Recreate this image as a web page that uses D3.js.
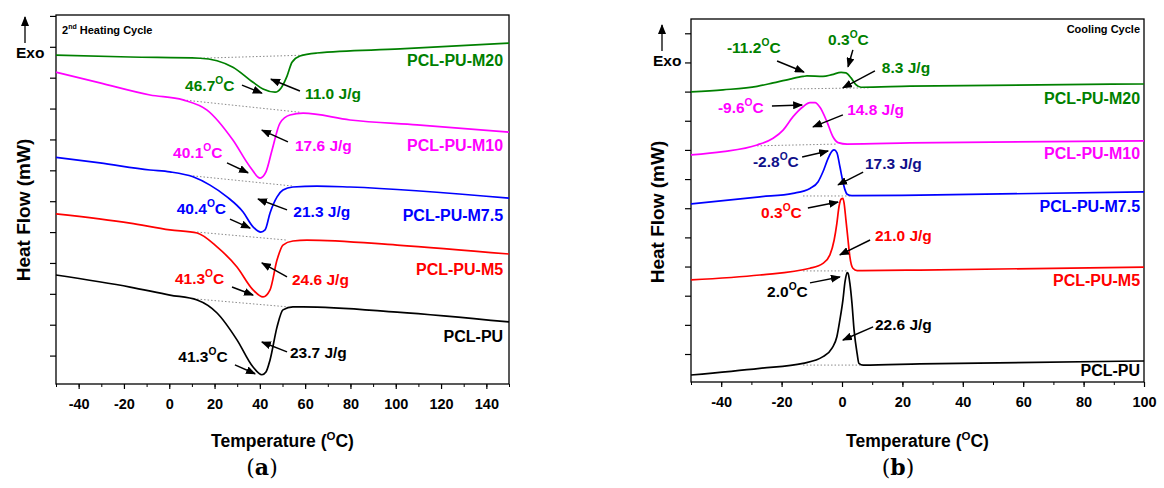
<!DOCTYPE html>
<html>
<head>
<meta charset="utf-8">
<script src="https://cdn.jsdelivr.net/npm/d3@7"></script>
<style>
body{margin:0;background:#fff}
svg{display:block;font-family:"Liberation Sans",Arial,sans-serif;font-weight:bold}
</style>
</head>
<body>
<script>
// ---- 2nd heating cycle (panel a): [temperature °C, heat flow (offset units)]
const heatPU   = [[-50,2.61],[-17.3,2.22],[0.3,1.96],[12.3,1.80],[21.1,1.38],[29.9,0.51],[37.0,-0.37],[40.9,-0.62],[42.7,-0.53],[44.5,-0.14],[47.6,0.93],[50.2,1.48],[54.6,1.58],[59.1,1.58],[100.6,1.41],[150,1.09]];
const heatM5   = [[-50,4.59],[-17.3,4.29],[0.3,4.07],[12.3,3.97],[21.1,3.52],[29.9,2.87],[37.0,2.13],[41.4,1.90],[44.5,2.13],[47.6,3.10],[50.2,3.58],[54.6,3.71],[60.8,3.74],[100.6,3.58],[150,3.29]];
const heatM75  = [[-50,6.42],[-30.6,6.24],[-8.5,6.01],[0.3,5.95],[10.5,5.79],[18.0,5.52],[25.5,5.14],[32.6,4.65],[37.0,4.17],[40.4,4.00],[42.3,4.07],[44.5,4.62],[47.6,5.14],[50.2,5.36],[54.6,5.46],[65.2,5.49],[79.8,5.46],[150,5.10]];
const heatM10  = [[-50,9.18],[-30.6,8.83],[-8.5,8.44],[6.1,8.28],[16.7,7.95],[28.1,6.98],[35.7,6.11],[40.1,5.75],[42.7,5.95],[45.4,6.66],[48.9,7.53],[53.3,7.79],[59.1,7.85],[79.8,7.63],[109.4,7.47],[150,7.24]];
const heatM20  = [[-50,9.73],[-17.3,9.67],[13.6,9.63],[28.1,9.34],[37.0,8.85],[41.4,8.63],[46.7,8.53],[49.3,8.66],[52.0,9.05],[54.2,9.50],[57.7,9.70],[65.2,9.80],[101.9,9.93],[150,10.12]];
const heatBase = [[13.6,9.63,59.9,9.73],[6.1,8.28,57.7,7.88],[10.5,5.82,54.6,5.49],[12.3,4.00,52.0,3.74],[12.3,1.83,52.0,1.58]];

// ---- cooling cycle (panel b)
const coolPU   = [[-50,-0.72],[-27.2,-0.49],[-12.9,-0.32],[-6.3,-0.09],[-3.3,0.20],[-1.7,0.59],[-0.7,1.17],[0.3,1.85],[1.0,2.48],[1.7,2.79],[2.0,2.77],[2.6,2.43],[3.3,1.74],[4.0,0.82],[5.0,0.02],[5.6,-0.32],[7.0,-0.38],[25.8,-0.34],[100,-0.24]];
const coolM5   = [[-50,2.54],[-27.2,2.71],[-10.6,2.94],[-6.3,3.11],[-4.0,3.40],[-2.6,3.91],[-1.7,4.48],[-1.0,5.05],[-0.3,5.31],[0.3,5.34],[0.7,5.17],[1.3,4.60],[2.0,3.91],[2.6,3.34],[3.6,2.94],[5.0,2.86],[25.8,2.88],[100,2.98]];
const coolM75  = [[-50,5.15],[-27.2,5.39],[-16.2,5.51],[-10.6,5.68],[-7.9,5.91],[-6.3,6.25],[-4.6,6.71],[-3.3,6.96],[-2.6,7.00],[-1.7,6.91],[-0.7,6.43],[0.3,5.91],[1.0,5.63],[1.7,5.48],[3.3,5.43],[25.8,5.45],[100,5.56]];
const coolM10  = [[-50,6.83],[-39.4,6.94],[-28.1,7.17],[-22.8,7.40],[-19.5,7.68],[-16.2,8.14],[-12.9,8.48],[-10.6,8.62],[-8.9,8.62],[-7.3,8.46],[-5.0,7.97],[-3.0,7.45],[-1.3,7.25],[1.7,7.20],[22.5,7.24],[100,7.31]];
const coolM20  = [[-50,8.99],[-39.4,9.06],[-28.1,9.18],[-22.8,9.30],[-17.2,9.43],[-12.9,9.52],[-11.6,9.54],[-6.3,9.52],[-3.3,9.58],[-0.3,9.66],[1.3,9.64],[3.0,9.47],[4.6,9.24],[6.3,9.15],[22.5,9.19],[100,9.26]];
const coolBase = [[-17.2,9.09,9.3,9.13],[-28.1,7.14,-1.7,7.20],[-12.9,5.42,2.6,5.42],[-12.9,2.85,1.7,2.85],[-12.9,-0.38,6.0,-0.38]];

const seriesKeys = ['PU','M5','M7.5','M10','M20'];
const colors = {'PU':'#000000','M5':'#ff0000','M7.5':'#0000ff','M10':'#ff00ff','M20':'#008000','navy':'#10108a'};

// annotations: [text, temperature, heat flow, colour key, kind]
const heatNotes = [
  ['46.7',7.0,8.56,'M20','deg'],['11.0 J/g',59.9,8.31,'M20'],['PCL-PU-M20',147.4,9.38,'M20','end'],
  ['40.1',1.7,6.39,'M10','deg'],['17.6 J/g',55.5,6.63,'M10'],['PCL-PU-M10',147.4,6.63,'M10','end'],
  ['40.4',3.3,4.59,'M7.5','deg'],['21.3 J/g',54.8,4.49,'M7.5'],['PCL-PU-M7.5',147.4,4.36,'M7.5','end'],
  ['41.3',2.5,2.32,'M5','deg'],['24.6 J/g',54.2,2.29,'M5'],['PCL-PU-M5',147.4,2.61,'M5','end'],
  ['41.3',4.0,-0.20,'PU','deg'],['23.7 J/g',53.3,-0.07,'PU'],['PCL-PU',147.4,0.44,'PU','end']
];
const heatArrows = [[32.1,8.76,40.9,8.50],[57.7,8.57,44.9,8.95],[25.5,6.24,34.8,5.92],[52.4,6.92,40.9,7.30],[26.8,4.42,35.7,4.13],[52.0,4.72,39.2,5.07],[27.7,2.22,37.0,1.96],[52.0,2.55,40.9,3.00],[29.0,-0.30,37.9,-0.59],[52.0,0.12,40.9,0.44]];

const coolNotes = [
  ['-11.2',-38.1,10.33,'M20','deg'],['0.3',-4.6,10.60,'M20','deg'],['8.3 J/g',13.2,9.64,'M20'],['PCL-PU-M20',98.7,8.58,'M20','end'],
  ['-9.6',-41.1,8.27,'M10','deg'],['14.8 J/g',1.7,8.20,'M10'],['PCL-PU-M10',98.7,6.69,'M10','end'],
  ['-2.8',-29.5,6.42,'navy','deg'],['17.3 J/g',7.6,6.35,'navy'],['PCL-PU-M7.5',98.7,4.87,'M7.5','end'],
  ['0.3',-26.8,4.67,'M5','deg'],['21.0 J/g',10.9,3.88,'M5'],['PCL-PU-M5',98.7,2.33,'M5','end'],
  ['2.0',-24.8,1.96,'PU','deg'],['22.6 J/g',10.9,0.82,'PU'],['PCL-PU',98.7,-0.75,'PU','end']
];
const coolArrows = [[-21.5,10.05,-12.6,9.67],[3.6,10.43,2.0,9.85],[10.9,9.71,0.3,9.13],[-23.2,8.51,-13.2,8.54],[0.3,8.20,-9.6,7.79],[-13.2,6.76,-4.6,6.96],[7.0,6.24,-1.3,5.80],[-11.3,5.01,-1.3,5.21],[9.3,3.91,-0.7,3.40],[-10.6,2.44,-0.7,2.64],[10.3,0.93,0.3,0.48]];

const heatTicks = [-40,-20,0,20,40,60,80,100,120,140];
const coolTicks = [-40,-20,0,20,40,60,80,100];

const width = 1164, height = 488;
const svg = d3.select('body').append('svg').attr('width', width).attr('height', height);

svg.append('defs').append('marker')
  .attr('id','head')
  .attr('markerUnits','userSpaceOnUse')
  .attr('markerWidth',10).attr('markerHeight',8)
  .attr('refX',9).attr('refY',4)
  .attr('orient','auto')
  .append('path').attr('d','M0,0 L10,4 L0,8 Z').attr('fill','#000');

function degText(g, x, y, num, color, size) {
  const t = g.append('text').attr('x', x).attr('y', y).attr('fill', color).attr('font-size', size);
  t.append('tspan').text(num);
  t.append('tspan').attr('font-size', size*0.66).attr('dy', -size*0.45).text('O');
  t.append('tspan').attr('dy', size*0.45).text('C');
  return t;
}

function drawPanel(cfg) {
  const x = d3.scaleLinear().domain(cfg.xDomain).range([cfg.left, cfg.right]);
  const y = d3.scaleLinear().domain(cfg.yDomain).range([cfg.bottom, cfg.top]);
  const g = svg.append('g');

  // minor x ticks
  g.append('g').attr('transform', `translate(0,${cfg.bottom})`)
    .call(d3.axisBottom(x).tickValues(d3.range(cfg.xDomain[0], cfg.xDomain[1]+1, 10)).tickSize(3).tickFormat(''))
    .call(s => s.select('.domain').remove());
  // major x ticks
  g.append('g').attr('transform', `translate(0,${cfg.bottom})`)
    .call(d3.axisBottom(x).tickValues(cfg.xTicks).tickSize(5).tickPadding(10).tickFormat(d => String(d)))
    .call(s => {
      s.select('.domain').remove();
      s.attr('font-size', 14.5).attr('font-family', null);
      s.selectAll('.tick line').attr('stroke-width', 1.2);
    });
  // y ticks (no labels)
  g.append('g').attr('transform', `translate(${cfg.left},0)`)
    .call(d3.axisLeft(y).tickValues(d3.range(0, Math.floor(cfg.yDomain[1])+1)).tickSize(6).tickFormat(''))
    .call(s => { s.select('.domain').remove(); s.selectAll('.tick line').attr('stroke-width', 1.2); });

  g.append('rect')
    .attr('x', cfg.left).attr('y', cfg.top)
    .attr('width', cfg.right-cfg.left).attr('height', cfg.bottom-cfg.top)
    .attr('fill','none').attr('stroke','#000').attr('stroke-width',1.3);

  // dotted baselines
  g.selectAll('line.base').data(cfg.base).join('line')
    .attr('x1', d => x(d[0])).attr('y1', d => y(d[1]))
    .attr('x2', d => x(d[2])).attr('y2', d => y(d[3]))
    .attr('stroke','#8a8a8a').attr('stroke-width',1).attr('stroke-dasharray','1.5,2');

  const line = d3.line().x(d => x(d[0])).y(d => y(d[1])).curve(d3.curveMonotoneX);
  g.selectAll('path.curve').data(cfg.series).join('path')
    .attr('d', d => line(d))
    .attr('fill','none')
    .attr('stroke', (d,i) => colors[seriesKeys[i]])
    .attr('stroke-width',1.7);

  // arrows
  g.selectAll('line.arr').data(cfg.arrows).join('line')
    .attr('x1', d => x(d[0])).attr('y1', d => y(d[1]))
    .attr('x2', d => x(d[2])).attr('y2', d => y(d[3]))
    .attr('stroke','#000').attr('stroke-width',1.5)
    .attr('marker-end','url(#head)');

  // labels
  cfg.notes.forEach(n => {
    const c = colors[n[3]];
    if (n[4] === 'deg') {
      degText(g, x(n[1]), y(n[2]), n[0], c, 15.5);
    } else {
      g.append('text').attr('x', x(n[1])).attr('y', y(n[2]))
        .attr('fill', c).attr('font-size', n[4] === 'end' ? 16 : 15.5)
        .attr('text-anchor', n[4] === 'end' ? 'end' : 'start')
        .text(n[0]);
    }
  });

  // axis titles
  const xt = g.append('text').attr('x', (cfg.left+cfg.right)/2).attr('y', 447)
    .attr('text-anchor','middle').attr('font-size',17.5);
  xt.append('tspan').text('Temperature (');
  xt.append('tspan').attr('font-size',11.5).attr('dy',-7).text('O');
  xt.append('tspan').attr('dy',7).text('C)');

  g.append('text')
    .attr('transform', `translate(${cfg.yTitleX},${cfg.yTitleY}) rotate(-90)`)
    .attr('text-anchor','middle').attr('font-size',19)
    .text('Heat Flow (mW)');

  // Exo arrow
  g.append('line')
    .attr('x1', cfg.exoX).attr('y1', cfg.exoY-15)
    .attr('x2', cfg.exoX).attr('y2', cfg.exoY-41)
    .attr('stroke','#000').attr('stroke-width',1.3).attr('marker-end','url(#head)');
  g.append('text').attr('x', cfg.exoX-9).attr('y', cfg.exoY)
    .attr('font-size',15.5).text('Exo');

  // panel letter
  const lt = g.append('text').attr('x', cfg.letterX).attr('y', 475)
    .attr('text-anchor','middle').attr('font-size',22)
    .attr('font-family','"DejaVu Serif","Liberation Serif",serif');
  lt.append('tspan').attr('font-weight','normal').text('(');
  lt.append('tspan').attr('font-weight','bold').text(cfg.letter);
  lt.append('tspan').attr('font-weight','normal').text(')');
  return g;
}

const ga = drawPanel({
  left:56, right:509, top:15, bottom:384,
  xDomain:[-50,150], yDomain:[-0.92,11.03], xTicks:heatTicks,
  series:[heatPU, heatM5, heatM75, heatM10, heatM20],
  base:heatBase, arrows:heatArrows, notes:heatNotes,
  yTitleX:30, yTitleY:210, exoX:25, exoY:58,
  letter:'a', letterX:262
});
const cyc = ga.append('text').attr('x',62).attr('y',34).attr('font-size',11);
cyc.append('tspan').text('2');
cyc.append('tspan').attr('font-size',7).attr('dy',-5).text('nd');
cyc.append('tspan').attr('dy',5).text(' Heating Cycle');

const gb = drawPanel({
  left:691, right:1144, top:19, bottom:382,
  xDomain:[-50,100], yDomain:[-0.96,11.49], xTicks:coolTicks,
  series:[coolPU, coolM5, coolM75, coolM10, coolM20],
  base:coolBase, arrows:coolArrows, notes:coolNotes,
  yTitleX:664, yTitleY:212, exoX:662, exoY:66,
  letter:'b', letterX:898
});
gb.append('text').attr('x',1140).attr('y',33).attr('text-anchor','end').attr('font-size',11).text('Cooling Cycle');
</script>
</body>
</html>
